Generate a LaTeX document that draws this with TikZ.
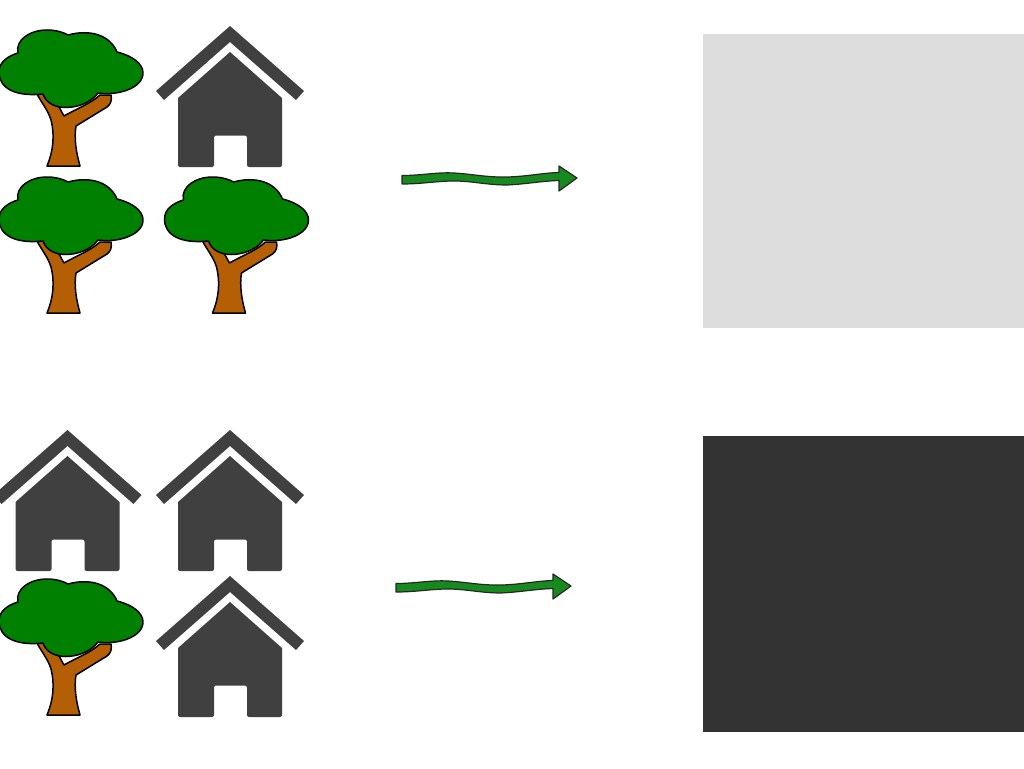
\documentclass[tikz,border=0pt]{standalone}
\usetikzlibrary{calc}
\definecolor{crowngreen}{HTML}{008000}
\definecolor{trunkbrown}{HTML}{B45F06}
\definecolor{housegrey}{HTML}{404040}
\definecolor{arrowgreen}{HTML}{168A1E}
\definecolor{lightpanel}{HTML}{DDDDDD}
\definecolor{darkpanel}{HTML}{333333}
\tikzset{
  x=1pt,y=-1pt,
  outline/.style={draw=black,line width=1.5pt,line join=round},
  pics/treeicon/.style={code={
    \draw[outline,fill=trunkbrown]
      (37,74) .. controls (41,82) and (48,90) .. (51,100)
      .. controls (55,116) and (53,132) .. (47,146) -- (80,146)
      .. controls (76,132) and (74,118) .. (76,106)
      -- (107,87)
      .. controls (111,84) and (112,80) .. (111,75) -- (100,75)
      .. controls (90,84) and (78,88) .. (64,96) -- (59,87)
      .. controls (52,80) and (46,76) .. (43,72) -- cycle;
    \draw[outline,fill=crowngreen]
      (43,74) .. controls (15,77) and (-1,68) .. (-1,52)
      .. controls (-1,42) and (8,36) .. (18,33)
      .. controls (15,20) and (30,10) .. (47,10)
      .. controls (55,10) and (63,12) .. (68,15)
      .. controls (90,9) and (110,15) .. (117,32)
      .. controls (133,36) and (143,44) .. (143,53)
      .. controls (143,68) and (118,76) .. (98,73)
      .. controls (90,84) and (75,87.5) .. (66,87.5)
      .. controls (55,87.5) and (46,83) .. (43,74) -- cycle;
  }},
  pics/houseicon/.style={code={
    \fill[housegrey]
      (80,6) -- (154,71) -- (146,80) -- (80,22) -- (14,80) -- (6,71) -- cycle;
    \fill[housegrey]
      (80,32) -- (132,78) [rounded corners=2pt] -- (132,147) -- (97,147) -- (97,115.5) -- (64,115.5)
      -- (64,147) -- (28,147) [sharp corners] -- (28,78) -- cycle;
  }},
  pics/flowarrow/.style={code={
    \draw[draw=black!85,line width=1.2pt,fill=arrowgreen,line join=round]
      (0,-3.5) .. controls (20,-3.5) and (35,-7) .. (52,-6)
      .. controls (70,-5) and (85,-1.5) .. (105,-2)
      .. controls (125,-2.5) and (140,-6) .. (157,-6.5)
      -- (157,-13) -- (175,-1) -- (157,12) -- (157,1.5)
      .. controls (140,2) and (125,5) .. (105,6)
      .. controls (85,6) and (70,2) .. (52,2)
      .. controls (35,2) and (20,5) .. (0,5) -- cycle;
  }}
}
\begin{document}
\begin{tikzpicture}
\useasboundingbox (0,0) rectangle (1024,768);
\fill[white] (0,0) rectangle (1024,768);
\fill[lightpanel] (703,34) rectangle (1024,328);
\fill[darkpanel] (703,436) rectangle (1024,732);
\pic at (0,20) {treeicon};
\pic at (0,167) {treeicon};
\pic at (165.5,167) {treeicon};
\pic at (0,569) {treeicon};
\pic at (150,20) {houseicon};
\pic at (-12.5,424) {houseicon};
\pic at (150,424) {houseicon};
\pic at (150,570) {houseicon};
\pic at (402,179) {flowarrow};
\pic at (396,587) {flowarrow};
\end{tikzpicture}
\end{document}
